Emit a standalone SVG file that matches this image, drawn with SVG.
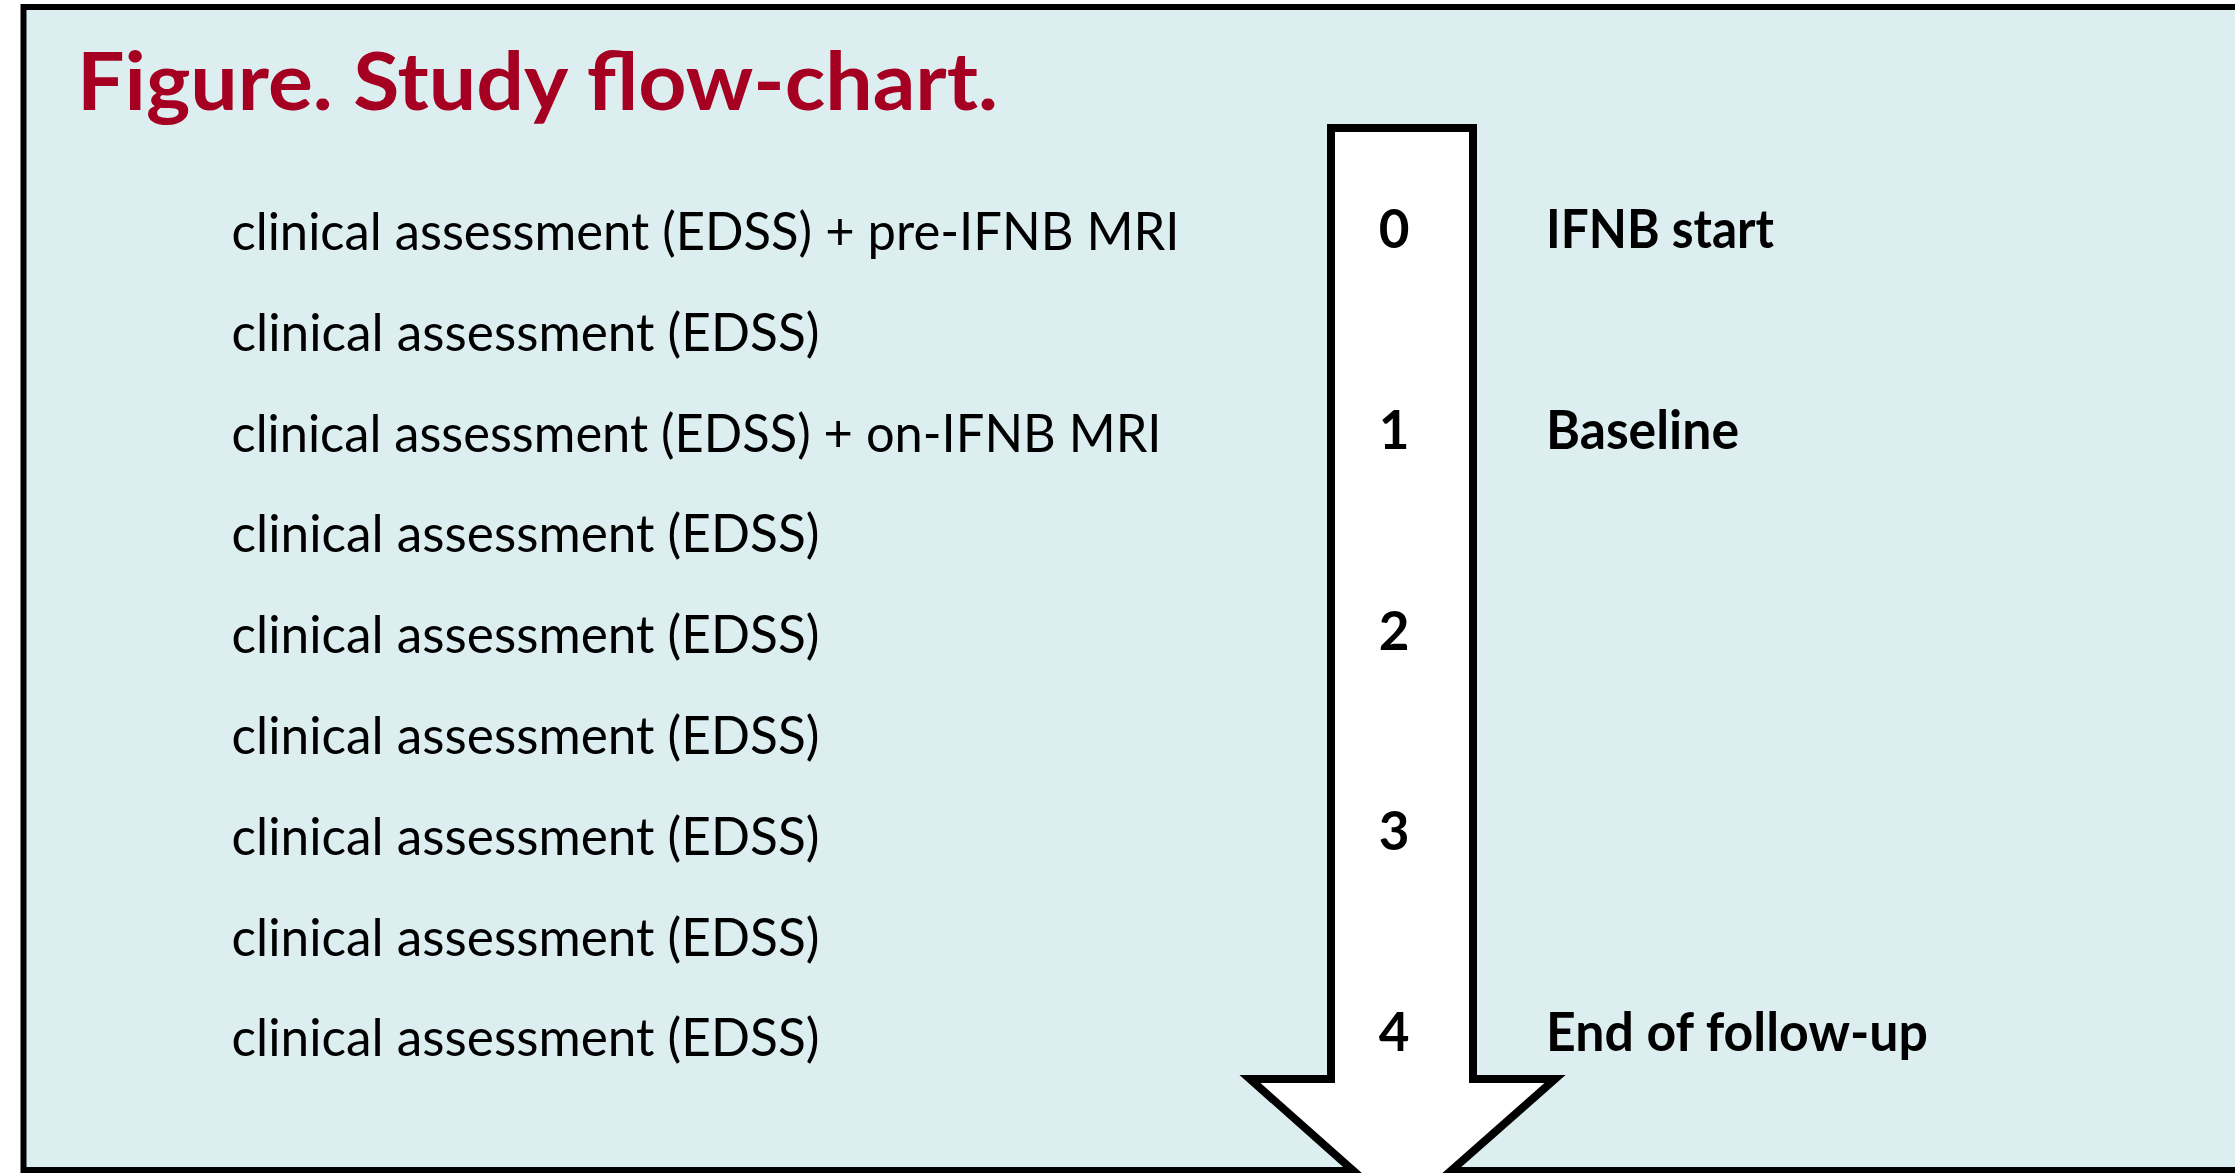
<svg xmlns="http://www.w3.org/2000/svg" width="2235" height="1173" viewBox="0 0 2235 1173">
<style>
.bg{fill:#DDEEF1;stroke:#000;stroke-width:6}
.arrow{fill:#fff;stroke:#000;stroke-width:8;stroke-linejoin:miter;stroke-miterlimit:10}
.title{font-family:Lato,"Open Sans","Liberation Sans",sans-serif;font-weight:bold;font-size:80px;fill:#A50021}
.row{font-family:Lato,"Open Sans","Liberation Sans",sans-serif;font-size:52px;fill:#000}
.num{font-family:Lato,"Open Sans","Liberation Sans",sans-serif;font-weight:bold;font-size:53px;fill:#000;text-anchor:middle}
.lab{font-family:Lato,"Open Sans","Liberation Sans",sans-serif;font-weight:bold;font-size:54px;fill:#000}
</style>
<rect id="frame" class="bg" x="23.5" y="7" width="2300" height="1163"/>
<text id="title" class="title" x="77" y="110" textLength="921" lengthAdjust="spacingAndGlyphs">Figure. Study flow-chart.</text>
<g id="timeline">
<path class="arrow" d="M1331,128 L1473,128 L1473,1079 L1555,1079 L1402,1214 L1250,1079 L1331,1079 Z"/>
</g>
<g id="assessments">
<text class="row" x="231.5" y="250" textLength="948" lengthAdjust="spacingAndGlyphs">clinical assessment (EDSS) + pre-IFNB MRI</text>
<text class="row" x="231.5" y="351" textLength="588" lengthAdjust="spacingAndGlyphs">clinical assessment (EDSS)</text>
<text class="row" x="231.5" y="452" textLength="930" lengthAdjust="spacingAndGlyphs">clinical assessment (EDSS) + on-IFNB MRI</text>
<text class="row" x="231.5" y="552" textLength="588" lengthAdjust="spacingAndGlyphs">clinical assessment (EDSS)</text>
<text class="row" x="231.5" y="653" textLength="588" lengthAdjust="spacingAndGlyphs">clinical assessment (EDSS)</text>
<text class="row" x="231.5" y="754" textLength="588" lengthAdjust="spacingAndGlyphs">clinical assessment (EDSS)</text>
<text class="row" x="231.5" y="855" textLength="588" lengthAdjust="spacingAndGlyphs">clinical assessment (EDSS)</text>
<text class="row" x="231.5" y="956" textLength="588" lengthAdjust="spacingAndGlyphs">clinical assessment (EDSS)</text>
<text class="row" x="231.5" y="1056" textLength="588" lengthAdjust="spacingAndGlyphs">clinical assessment (EDSS)</text>
</g>
<g id="years">
<text class="num" x="1394" y="248">0</text>
<text class="num" x="1394" y="449">1</text>
<text class="num" x="1394" y="650">2</text>
<text class="num" x="1394" y="850">3</text>
<text class="num" x="1394" y="1051">4</text>
</g>
<g id="milestones">
<text class="lab" x="1546" y="248" textLength="228" lengthAdjust="spacingAndGlyphs">IFNB start</text>
<text class="lab" x="1546" y="449" textLength="193" lengthAdjust="spacingAndGlyphs">Baseline</text>
<text class="lab" x="1546" y="1051" textLength="382" lengthAdjust="spacingAndGlyphs">End of follow-up</text>
</g>
</svg>
